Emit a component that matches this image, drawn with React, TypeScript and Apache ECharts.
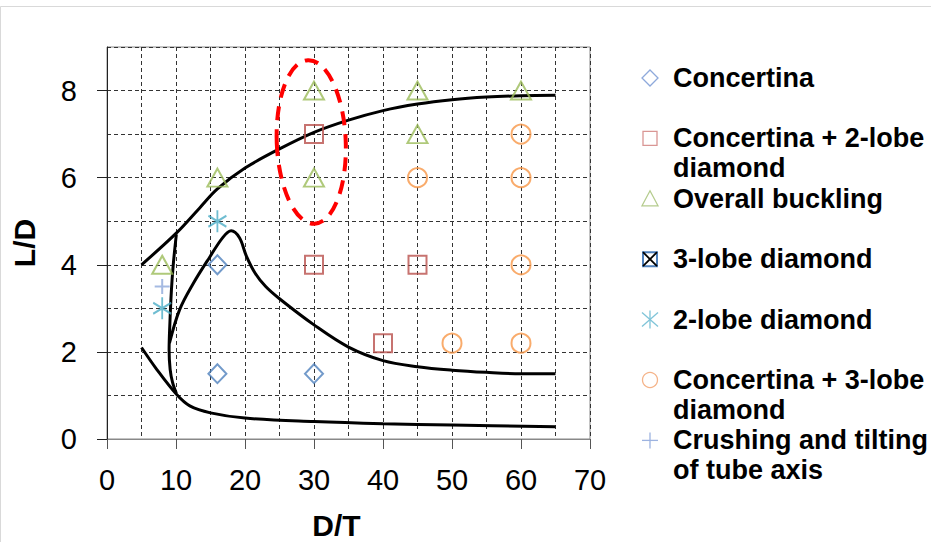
import React, { useEffect, useRef } from "react";
import * as echarts from "echarts";

// ---- data ----
const xTicks = [0, 10, 20, 30, 40, 50, 60, 70];
const yTicks = [0, 2, 4, 6, 8];

const concertina = [[16, 1.5], [30, 1.5], [16, 4]];
const concertina2Lobe = [[30, 7], [30, 4], [45, 4], [40, 2.2]];
const overallBuckling = [[8, 4], [16, 6], [30, 8], [30, 6], [45, 8], [45, 7], [60, 8]];
const threeLobe: number[][] = [];
const twoLobe = [[16, 5], [8, 3]];
const concertina3Lobe = [[45, 6], [60, 7], [60, 6], [60, 4], [50, 2.2], [60, 2.2]];
const crushing = [[8, 3.5]];

const upperCurve = [[5, 4.0], [10, 4.72], [13.4, 5.3], [16, 5.74], [20, 6.22], [25, 6.66], [30, 7.04], [35, 7.32], [40, 7.54], [45, 7.69], [50, 7.79], [55, 7.85], [60, 7.88], [65, 7.89]];
const steepCurve = [[10.05, 4.7], [9.6, 4.0], [9.33, 3.4], [9.1, 2.6], [9.0, 2.05], [9.15, 1.6], [9.5, 1.3], [10.05, 1.05]];
const peakCurve = [[9.05, 2.2], [10.5, 2.96], [12.5, 3.57], [14.9, 4.18], [16.8, 4.63], [18.0, 4.78], [19.2, 4.62], [20.2, 4.2], [21.5, 3.8], [23, 3.5], [25, 3.22], [30, 2.62], [35, 2.11], [40, 1.8], [45, 1.66], [50, 1.58], [55, 1.53], [60, 1.5], [65, 1.5]];
const lowerCurve = [[5, 2.1], [7.2, 1.6], [10.1, 1.02], [12, 0.76], [15, 0.6], [20, 0.48], [30, 0.4], [40, 0.35], [50, 0.32], [65, 0.28]];
const ellipseCenter = [[29.6, 6.82]];
const ellipseRadii = [5.0, 1.88];

const legendLabels = [
  ["Concertina"],
  ["Concertina + 2-lobe", "diamond"],
  ["Overall buckling"],
  ["3-lobe diamond"],
  ["2-lobe diamond"],
  ["Concertina + 3-lobe", "diamond"],
  ["Crushing and tilting", "of tube axis"],
];

const C_BLUE = "#4F81BD";
const C_RED = "#B9504C";
const C_GREEN = "#9BBB59";
const C_TEAL = "#4BACC6";
const C_ORANGE = "#F79646";
const C_LBLUE = "#8EA9DB";

const ASTER = "path://M9,0L9,22M0,5.5L18,16.5M0,16.5L18,5.5";
const PLUS = "path://M0,7.5L15,7.5M7.5,0L7.5,15";

const FONT = "Liberation Sans, Arial, sans-serif";

function scatter(name: string, data: number[][], symbol: string, size: any, color: string) {
  return {
    name,
    type: "scatter",
    data,
    symbol,
    symbolSize: size,
    symbolKeepAspect: false,
    itemStyle: { color: "transparent", borderColor: color, borderWidth: 2 },
    z: 5,
  };
}

function curve(data: number[][]) {
  return {
    type: "line",
    data,
    smooth: 0.35,
    showSymbol: false,
    symbol: "none",
    lineStyle: { color: "#000", width: 3 },
    z: 3,
    silent: true,
  };
}

function legendGraphic() {
  const els: any[] = [];
  const mx = 650;
  const lc = { lineWidth: 1.3, fill: "none" };
  legendLabels.forEach((lines, i) => {
    const cy = 78 + i * 60.4;
    let marker: any[] = [];
    if (i === 0) marker = [{ type: "polygon", shape: { points: [[mx, cy - 8], [mx + 8, cy], [mx, cy + 8], [mx - 8, cy]] }, style: { ...lc, stroke: C_LBLUE } }];
    if (i === 1) marker = [{ type: "rect", shape: { x: mx - 7, y: cy - 7, width: 14, height: 14 }, style: { ...lc, stroke: "#D99694" } }];
    if (i === 2) marker = [{ type: "polygon", shape: { points: [[mx, cy - 8], [mx + 8, cy + 7], [mx - 8, cy + 7]] }, style: { ...lc, stroke: "#B5CC8E" } }];
    if (i === 3) marker = [
      { type: "rect", shape: { x: mx - 7, y: cy - 7, width: 14, height: 14 }, style: { lineWidth: 2, fill: "none", stroke: C_BLUE } },
      { type: "line", shape: { x1: mx - 7, y1: cy - 7, x2: mx + 7, y2: cy + 7 }, style: { lineWidth: 1.8, stroke: "#000" } },
      { type: "line", shape: { x1: mx - 7, y1: cy + 7, x2: mx + 7, y2: cy - 7 }, style: { lineWidth: 1.8, stroke: "#000" } },
    ];
    if (i === 4) marker = [
      { type: "line", shape: { x1: mx, y1: cy - 9, x2: mx, y2: cy + 9 }, style: { ...lc, stroke: "#7FC4D8" } },
      { type: "line", shape: { x1: mx - 8, y1: cy - 7, x2: mx + 8, y2: cy + 7 }, style: { ...lc, stroke: "#7FC4D8" } },
      { type: "line", shape: { x1: mx - 8, y1: cy + 7, x2: mx + 8, y2: cy - 7 }, style: { ...lc, stroke: "#7FC4D8" } },
    ];
    if (i === 5) marker = [{ type: "circle", shape: { cx: mx, cy, r: 7.5 }, style: { ...lc, stroke: "#F5B48A" } }];
    if (i === 6) marker = [
      { type: "line", shape: { x1: mx - 8, y1: cy, x2: mx + 8, y2: cy }, style: { ...lc, stroke: "#9DB3E0" } },
      { type: "line", shape: { x1: mx, y1: cy - 8, x2: mx, y2: cy + 8 }, style: { ...lc, stroke: "#9DB3E0" } },
    ];
    els.push(...marker);
    lines.forEach((t, j) => {
      els.push({
        type: "text",
        x: 673,
        y: cy + j * 30,
        style: { text: t, font: `bold 27px ${FONT}`, fill: "#000", verticalAlign: "middle", align: "left" },
      });
    });
  });
  // outer frame
  els.push({ type: "rect", shape: { x: 0.5, y: 6.5, width: 940, height: 600 }, style: { fill: "none", stroke: "#d9d9d9", lineWidth: 1 }, z: -1 });
  return els;
}

export default function App() {
  const ref = useRef<HTMLDivElement>(null);
  useEffect(() => {
    const chart = echarts.init(ref.current!, null, { renderer: "svg" });
    const dashed = { color: "#333", width: 1, type: [4, 3] as any };
    const hidden = { show: false };
    chart.setOption({
      animation: false,
      backgroundColor: "#fff",
      grid: { left: 107, right: 341, top: 47, bottom: 103, show: true, borderColor: "#888", borderWidth: 1, outerBoundsMode: "none", containLabel: false },
      xAxis: [
        {
          type: "value",
          min: 0,
          max: 70,
          interval: 10,
          name: "D/T",
          nameLocation: "middle",
          nameGap: 71,
          nameTextStyle: { fontFamily: FONT, fontSize: 30, lineHeight: 30, fontWeight: "bold", color: "#000", padding: [0, 24, 0, 0] },
          axisLine: { lineStyle: { color: "#888", width: 1 } },
          axisTick: { show: true, length: 10, inside: false, customValues: xTicks, lineStyle: { color: "#555" } },
          axisLabel: { customValues: xTicks, margin: 26, fontFamily: FONT, fontSize: 29, color: "#000" },
          splitLine: hidden,
          z: 6,
        },
        {
          type: "value",
          min: 0,
          max: 70,
          interval: 5,
          position: "top",
          axisLine: hidden,
          axisTick: hidden,
          axisLabel: hidden,
          splitLine: { show: true, lineStyle: dashed },
        },
      ],
      yAxis: [
        {
          type: "value",
          min: 0,
          max: 9,
          interval: 1,
          name: "L/D",
          nameLocation: "middle",
          nameGap: 68,
          nameRotate: 90,
          nameTextStyle: { fontFamily: FONT, fontSize: 30, fontWeight: "bold", color: "#000" },
          axisLine: { show: true, lineStyle: { color: "#222", width: 1 } },
          axisTick: { show: true, length: 10, customValues: yTicks, lineStyle: { color: "#222" } },
          axisLabel: { customValues: yTicks, margin: 30, fontFamily: FONT, fontSize: 29, color: "#000" },
          splitLine: hidden,
          z: 6,
        },
        {
          type: "value",
          min: 0,
          max: 9,
          interval: 1,
          position: "right",
          axisLine: hidden,
          axisTick: hidden,
          axisLabel: hidden,
          splitLine: { show: true, lineStyle: dashed },
        },
      ],
      series: [
        curve(upperCurve),
        curve(steepCurve),
        curve(peakCurve),
        curve(lowerCurve),
        {
          type: "custom",
          data: ellipseCenter,
          z: 4,
          silent: true,
          renderItem: (params: any, api: any) => {
            const c = api.coord([api.value(0), api.value(1)]);
            const s = api.size([ellipseRadii[0], ellipseRadii[1]]);
            return {
              type: "ellipse",
              x: c[0],
              y: c[1],
              rotation: 0.04,
              shape: { cx: 0, cy: 0, rx: s[0], ry: s[1] },
              style: { fill: "none", stroke: "#FF0000", lineWidth: 4, lineDash: [14, 9] },
            };
          },
        },
        scatter("Concertina", concertina, "diamond", [18, 19], C_BLUE),
        scatter("Concertina + 2-lobe diamond", concertina2Lobe, "rect", 18, C_RED),
        scatter("Overall buckling", overallBuckling, "triangle", [20, 18], C_GREEN),
        scatter("3-lobe diamond", threeLobe, "rect", 14, C_BLUE),
        scatter("2-lobe diamond", twoLobe, ASTER, [18, 22], C_TEAL),
        scatter("Concertina + 3-lobe diamond", concertina3Lobe, "circle", 19, C_ORANGE),
        scatter("Crushing and tilting of tube axis", crushing, PLUS, 15, C_LBLUE),
      ],
      graphic: legendGraphic(),
    });
    return () => chart.dispose();
  }, []);
  return (
    <div
      ref={ref}
      style={{ position: "fixed", left: 0, top: 0, width: 931, height: 542, background: "#fff" }}
    />
  );
}
